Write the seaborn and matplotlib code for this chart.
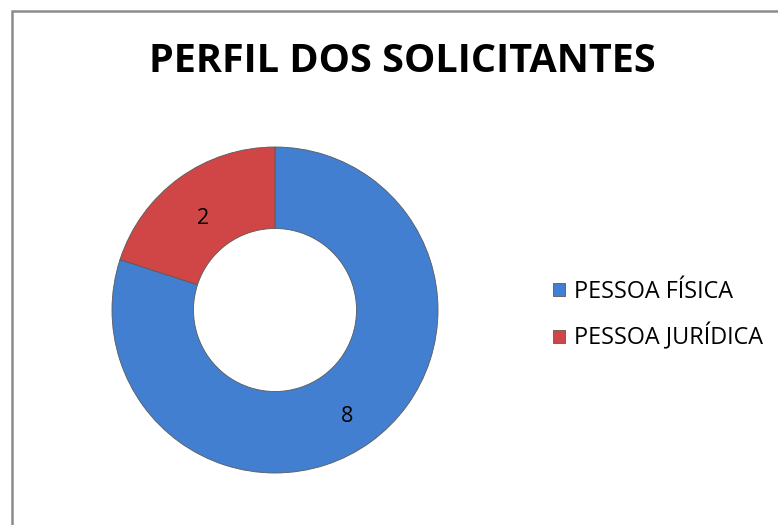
import matplotlib
matplotlib.use("Agg")
import matplotlib.pyplot as plt
from matplotlib.patches import Rectangle
import seaborn as sns

# data
categories = ["PESSOA FÍSICA", "PESSOA JURÍDICA"]
values = [8, 2]
colors = ["#437fd0", "#d04545"]
title = "PERFIL DOS SOLICITANTES"

sns.set_theme(style="white")
plt.rcParams["font.family"] = ["Open Sans", "DejaVu Sans"]
plt.rcParams["text.color"] = "black"

fig = plt.figure(figsize=(7.78, 5.25), dpi=100)

# chart frame (runs off the right and bottom edge)
fig.patches.append(Rectangle((11.5 / 778, -0.05), 1.1, 1 - 11 / 525 + 0.05,
                             transform=fig.transFigure, fill=False,
                             edgecolor="#8c8c8c", linewidth=1.8))

ax = fig.add_axes([112 / 778, 52 / 525, 326 / 778, 326 / 525])
wedges, texts = ax.pie(values, colors=colors, startangle=90, counterclock=False,
                       radius=1.0, labels=[str(v) for v in values],
                       labeldistance=0.75,
                       wedgeprops=dict(width=0.5, edgecolor="#5a5a5a", linewidth=0.6),
                       textprops=dict(fontsize=15.5, color="black"))
for t in texts:
    t.set_horizontalalignment("center")
    t.set_verticalalignment("center")
    x, y = t.get_position()
    t.set_position((x, y - 0.045))
ax.set_xlim(-1, 1)
ax.set_ylim(-1, 1)
ax.set_aspect("equal")
ax.axis("off")

fig.text(402 / 778, 1 - 62 / 525, title, ha="center", va="center",
         fontsize=28.5, fontweight="bold", color="black")

fig.legend(wedges, categories, loc="center left",
           bbox_to_anchor=(532 / 778, 1 - 315 / 525), frameon=False,
           fontsize=16.8, handlelength=0.5, handleheight=0.5,
           handletextpad=0.4, labelspacing=0.85, labelcolor="black")

fig.savefig("out.png", dpi=100)
